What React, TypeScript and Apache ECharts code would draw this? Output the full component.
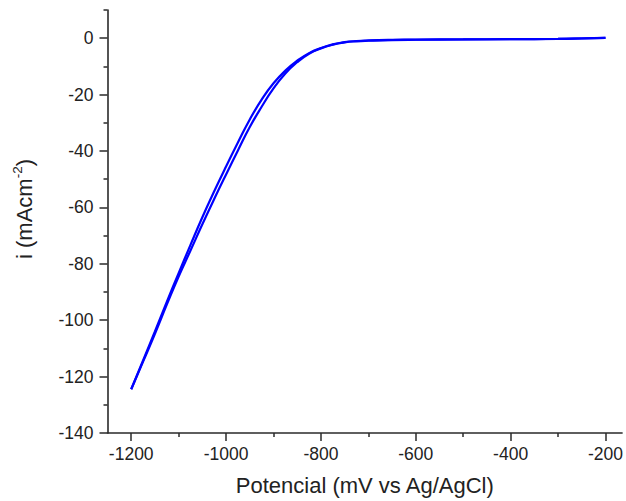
import React, { useEffect, useRef } from "react";
import * as echarts from "echarts";

// Forward sweep (cathodic): -200 -> -1200 mV
const potentialForward = [-200, -250, -300, -400, -500, -600, -650, -700, -725, -750, -775, -800, -825, -850, -875, -900, -925, -950, -975, -1000, -1025, -1050, -1075, -1100, -1125, -1150, -1175, -1200];
const currentForward = [0.1, -0.05, -0.2, -0.35, -0.4, -0.5, -0.6, -0.8, -1.0, -1.4, -2.2, -3.5, -5.3, -8, -11.5, -16, -21.8, -28.8, -37, -45.5, -54.3, -63.5, -73.3, -83.3, -93.5, -104, -114.3, -124.5];

// Reverse sweep (anodic): -1200 -> -200 mV
const potentialReverse = [-1200, -1175, -1150, -1125, -1100, -1075, -1050, -1025, -1000, -975, -950, -925, -900, -875, -850, -825, -800, -775, -750, -725, -700, -650, -600, -500, -400, -300, -250, -200];
const currentReverse = [-124.5, -114.7, -104.8, -94.5, -84.5, -75.3, -66, -57, -48.3, -39.8, -31.5, -24.3, -17.8, -12.5, -8.5, -5.5, -3.6, -2.3, -1.5, -1.1, -0.9, -0.65, -0.55, -0.45, -0.35, -0.25, -0.1, 0.1];

const xMajorTicks = [-1200, -1000, -800, -600, -400, -200];
const xMinorTicks = [-1100, -900, -700, -500, -300];
const yMajorTicks = [-140, -120, -100, -80, -60, -40, -20, 0];
const yMinorTicks = [-130, -110, -90, -70, -50, -30, -10, 10];

const xTitle = "Potencial (mV vs Ag/AgCl)";
const yTitle = "i (mAcm{sup|-2})";

const FONT = "Arial, 'Liberation Sans', sans-serif";
const AXIS_COLOR = "#2a2a2a";
const TEXT_COLOR = "#222";

export default function App() {
  const ref = useRef<HTMLDivElement>(null);

  useEffect(() => {
    if (!ref.current) return;
    const chart = echarts.init(ref.current, undefined, { renderer: "svg" });
    const fwd = potentialForward.map((x, i) => [x, currentForward[i]]);
    const rev = potentialReverse.map((x, i) => [x, currentReverse[i]]);

    const axisLine = { show: true, onZero: false, lineStyle: { color: AXIS_COLOR, width: 1.6 } };
    const plain = (v: number) => String(v);

    chart.setOption({
      animation: false,
      backgroundColor: "#ffffff",
      grid: { left: 107.5, right: 0, top: 10, bottom: 68, containLabel: false },
      xAxis: [
        {
          type: "value",
          position: "bottom",
          min: -1250,
          max: -165,
          axisLine,
          axisTick: { show: true, customValues: xMajorTicks, length: 8, lineStyle: { color: AXIS_COLOR, width: 1.5 } },
          axisLabel: { show: true, customValues: xMajorTicks, formatter: plain, margin: 12, fontSize: 17.5, color: TEXT_COLOR, fontFamily: FONT },
          splitLine: { show: false },
          name: xTitle,
          nameLocation: "middle",
          nameGap: 41,
          nameTextStyle: { fontSize: 22, color: TEXT_COLOR, fontFamily: FONT },
        },
        {
          type: "value",
          position: "bottom",
          min: -1250,
          max: -165,
          axisLine: { show: false, onZero: false },
          axisTick: { show: true, customValues: xMinorTicks, length: 4, lineStyle: { color: AXIS_COLOR, width: 1.5 } },
          axisLabel: { show: false },
          splitLine: { show: false },
        },
      ],
      yAxis: [
        {
          type: "value",
          position: "left",
          min: -140,
          max: 10,
          axisLine,
          axisTick: { show: true, customValues: yMajorTicks, length: 8, lineStyle: { color: AXIS_COLOR, width: 1.5 } },
          axisLabel: { show: true, customValues: yMajorTicks, formatter: plain, margin: 14, fontSize: 17.5, color: TEXT_COLOR, fontFamily: FONT },
          splitLine: { show: false },
          name: yTitle,
          nameLocation: "middle",
          nameGap: 70,
          nameRotate: 90,
          nameTextStyle: {
            fontSize: 22,
            color: TEXT_COLOR,
            fontFamily: FONT,
            padding: [0, 0, 0, 25],
            lineHeight: 27,
            rich: {
              sup: { fontSize: 13.5, color: TEXT_COLOR, fontFamily: FONT, verticalAlign: "top", lineHeight: 27 },
            },
          },
        },
        {
          type: "value",
          position: "left",
          min: -140,
          max: 10,
          axisLine: { show: false, onZero: false },
          axisTick: { show: true, customValues: yMinorTicks, length: 4, lineStyle: { color: AXIS_COLOR, width: 1.5 } },
          axisLabel: { show: false },
          splitLine: { show: false },
        },
      ],
      series: [
        {
          type: "line",
          data: fwd,
          showSymbol: false,
          smooth: 0.5,
          lineStyle: { color: "#0000ff", width: 2.2 },
          xAxisIndex: 0,
          yAxisIndex: 0,
        },
        {
          type: "line",
          data: rev,
          showSymbol: false,
          smooth: 0.5,
          lineStyle: { color: "#0000ff", width: 2.2 },
          xAxisIndex: 0,
          yAxisIndex: 0,
        },
      ],
    });
    return () => chart.dispose();
  }, []);

  return (
    <div
      ref={ref}
      style={{ position: "fixed", left: 0, top: 0, width: 626, height: 501, background: "#fff" }}
    />
  );
}
